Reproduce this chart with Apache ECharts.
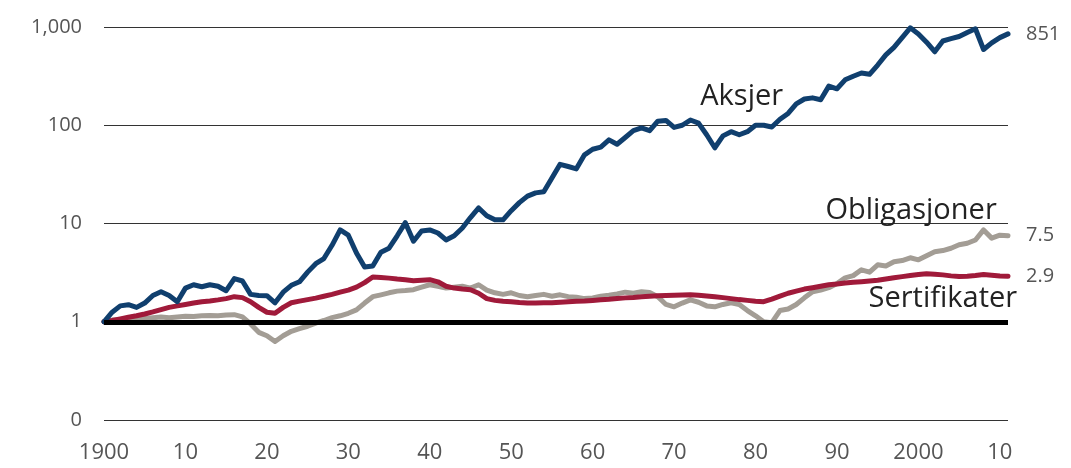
<!DOCTYPE html>
<html>
<head>
<meta charset="utf-8">
<script src="https://cdn.jsdelivr.net/npm/echarts@6/dist/echarts.min.js"></script>
<style>
  html, body { margin: 0; padding: 0; background: #fff; }
  #chart { width: 1071px; height: 468px; }
</style>
</head>
<body>
<div id="chart"></div>
<script>
// Realavkastning, indeks 1900 = 1 (logaritmisk skala)
const years = [];
for (let y = 1900; y <= 2011; y++) years.push(y);

const aksjer = [
  1.0, 1.25, 1.45, 1.49, 1.40, 1.55, 1.85, 2.02, 1.85, 1.6,
  2.2, 2.38, 2.27, 2.38, 2.3, 2.07, 2.75, 2.6, 1.9, 1.85,
  1.84, 1.56, 2.0, 2.35, 2.55, 3.2, 3.9, 4.4, 6.0, 8.6,
  7.6, 5.0, 3.6, 3.7, 5.1, 5.6, 7.5, 10.2, 6.6, 8.4,
  8.6, 8.0, 6.8, 7.5, 9.0, 11.5, 14.4, 12.0, 10.9, 10.9,
  13.5, 16.3, 19.0, 20.5, 21, 29, 40, 38, 36, 50,
  57, 60, 71, 64, 75, 88, 94, 88, 110, 112,
  95, 100, 113, 105, 80, 59, 78, 86, 80, 86,
  100, 100, 96, 115, 132, 165, 185, 190, 182, 250,
  235, 290, 315, 340, 330, 410, 520, 620, 780, 980,
  850, 700, 560, 720, 760, 800, 880, 960, 590, 690,
  780, 851
];

const obligasjoner = [
  1.0, 1.04, 1.05, 1.08, 1.1, 1.08, 1.1, 1.12, 1.1, 1.12,
  1.14, 1.13, 1.15, 1.16, 1.15, 1.17, 1.18, 1.12, 0.95, 0.78,
  0.72, 0.63, 0.72, 0.8, 0.85, 0.9, 0.97, 1.03, 1.1, 1.15,
  1.22, 1.32, 1.55, 1.8, 1.88, 1.97, 2.05, 2.08, 2.12, 2.25,
  2.38, 2.3, 2.2, 2.25, 2.3, 2.2, 2.38, 2.1, 1.97, 1.9,
  1.97, 1.85, 1.8, 1.85, 1.9, 1.82, 1.88, 1.8, 1.78, 1.72,
  1.75, 1.82, 1.86, 1.92, 2.0, 1.95, 2.02, 1.98, 1.8, 1.5,
  1.42, 1.55, 1.67, 1.58, 1.45, 1.42, 1.5, 1.56, 1.5, 1.3,
  1.15, 1.0, 0.98, 1.3, 1.35, 1.5, 1.75, 2.02, 2.1, 2.22,
  2.45, 2.8, 2.95, 3.38, 3.2, 3.8, 3.7, 4.08, 4.2, 4.48,
  4.27, 4.7, 5.15, 5.3, 5.6, 6.07, 6.3, 6.8, 8.6, 7.1,
  7.6, 7.5
];

const sertifikater = [
  1.0, 1.03, 1.07, 1.11, 1.15, 1.2, 1.26, 1.33, 1.4, 1.45,
  1.5, 1.55, 1.6, 1.63, 1.67, 1.72, 1.8, 1.76, 1.6, 1.4,
  1.25, 1.22, 1.4, 1.56, 1.62, 1.68, 1.74, 1.82, 1.9, 2.0,
  2.1, 2.25, 2.5, 2.85, 2.82, 2.78, 2.72, 2.68, 2.62, 2.65,
  2.68, 2.55, 2.3, 2.2, 2.15, 2.12, 1.95, 1.72, 1.65, 1.62,
  1.6, 1.57, 1.55, 1.55, 1.56, 1.56, 1.58, 1.6, 1.62, 1.63,
  1.65, 1.67, 1.69, 1.72, 1.75, 1.77, 1.8, 1.82, 1.84, 1.85,
  1.86, 1.87, 1.88, 1.86, 1.83, 1.8, 1.76, 1.72, 1.68, 1.65,
  1.62, 1.6, 1.7, 1.82, 1.95, 2.05, 2.15, 2.22, 2.3, 2.38,
  2.42, 2.48, 2.53, 2.56, 2.6, 2.65, 2.72, 2.8, 2.88, 2.95,
  3.02, 3.08, 3.05, 3.0, 2.93, 2.88, 2.9, 2.95, 3.02, 2.98,
  2.92, 2.9
];

const yTicks = [0.1, 1, 10, 100, 1000];
const yTickLabels = ['0', '1', '10', '100', '1,000'];

// Series name annotations, placed in data space [year, value]
const nameLabels = {
  Aksjer: [1978.3, 194],
  Obligasjoner: [1999.1, 13.5],
  Sertifikater: [2003, 1.71]
};

const COLORS = {
  aksjer: '#103f6e',
  obligasjoner: '#a39d95',
  sertifikater: '#a01a3a'
};

const FONT = '"Open Sans", "DejaVu Sans", sans-serif';

function pairs(vals) {
  return years.map((y, i) => [y, vals[i]]);
}

function nameMark(name) {
  return {
    silent: true,
    symbol: 'rect',
    symbolSize: [1, 1],
    itemStyle: { color: 'rgba(0,0,0,0)' },
    label: {
      show: true,
      formatter: name,
      position: 'inside',
      color: '#222',
      fontSize: 29,
      fontFamily: FONT
    },
    data: [{ coord: nameLabels[name] }]
  };
}

function lineSeries(name, vals, color, z) {
  return {
    name: name,
    type: 'line',
    data: pairs(vals),
    showSymbol: false,
    symbol: 'none',
    z: z,
    lineStyle: { color: color, width: 5, join: 'round', cap: 'round' },
    endLabel: {
      show: true,
      formatter: p => String(p.value[1]),
      color: '#555',
      fontSize: 20,
      fontFamily: FONT,
      distance: 18
    },
    markPoint: nameMark(name),
    animation: false
  };
}

const chart = echarts.init(document.getElementById('chart'), null, { renderer: 'canvas' });

chart.setOption({
  backgroundColor: '#fff',
  animation: false,
  grid: { left: 104, right: 63, top: 27, bottom: 48, containLabel: false },
  xAxis: {
    type: 'value',
    min: 1900,
    max: 2011,
    interval: 10,
    axisLine: { show: false },
    axisTick: { show: false },
    splitLine: { show: false },
    axisLabel: {
      color: '#555',
      fontSize: 22,
      fontFamily: FONT,
      margin: 22,
      showMaxLabel: false,
      formatter: v => {
        if (v % 10 !== 0) return '';
        if (v === 1900 || v === 2000) return String(v);
        return String(v % 100).padStart(2, '0');
      }
    }
  },
  yAxis: {
    type: 'log',
    logBase: 10,
    min: yTicks[0],
    max: yTicks[yTicks.length - 1],
    axisLine: { show: false },
    axisTick: { show: false },
    splitLine: { show: true, lineStyle: { color: '#333', width: 1.2 } },
    axisLabel: {
      color: '#555',
      fontSize: 20,
      fontFamily: FONT,
      margin: 22,
      formatter: v => {
        const i = yTicks.findIndex(t => Math.abs(t - v) / t < 1e-6);
        return i >= 0 ? yTickLabels[i] : '';
      }
    }
  },
  series: [
    {
      name: 'Basis',
      type: 'line',
      data: [],
      markLine: {
        silent: true,
        symbol: 'none',
        label: { show: false },
        lineStyle: { color: '#000', width: 5, type: 'solid' },
        data: [{ yAxis: 1 }]
      },
      z: 1
    },
    lineSeries('Obligasjoner', obligasjoner, COLORS.obligasjoner, 2),
    lineSeries('Sertifikater', sertifikater, COLORS.sertifikater, 3),
    lineSeries('Aksjer', aksjer, COLORS.aksjer, 4)
  ]
});
</script>
</body>
</html>
